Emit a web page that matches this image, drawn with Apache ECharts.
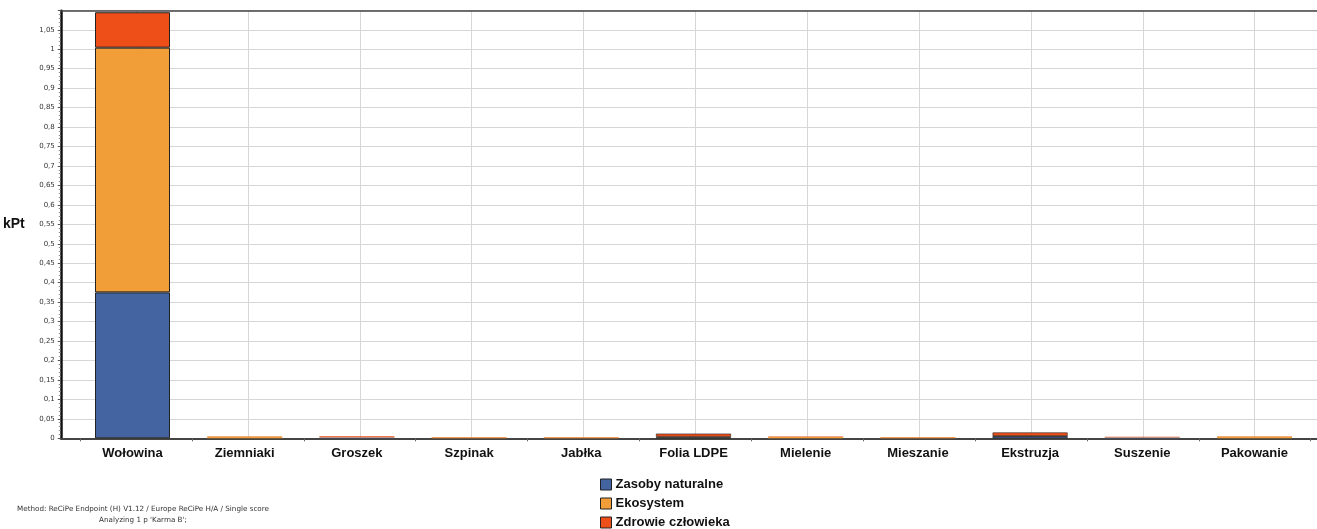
<!DOCTYPE html>
<html><head><meta charset="utf-8">
<script src="https://cdn.jsdelivr.net/npm/echarts@6/dist/echarts.min.js"></script>
<style>html,body{margin:0;padding:0;background:#fff}#c{width:1317px;height:529px}</style>
</head><body><div id="c"></div>
<script>
const categories = ['Wołowina','Ziemniaki','Groszek','Szpinak','Jabłka','Folia LDPE','Mielenie','Mieszanie','Ekstruzja','Suszenie','Pakowanie'];
const seriesNames = ['Zasoby naturalne','Ekosystem','Zdrowie człowieka'];
const zasoby   = [0.375, 0.0004, 0.0020, 0.0003, 0.0003, 0.0020, 0.0004, 0.0003, 0.0050, 0.0020, 0.0004];
const ekosystem= [0.629, 0.0040, 0.0008, 0.0025, 0.0025, 0.0020, 0.0030, 0.0025, 0.0010, 0.0006, 0.0040];
const zdrowie  = [0.091, 0.0008, 0.0022, 0.0008, 0.0008, 0.0080, 0.0015, 0.0008, 0.0090, 0.0016, 0.0008];
const yTicks = ['0','0,05','0,1','0,15','0,2','0,25','0,3','0,35','0,4','0,45','0,5','0,55','0,6','0,65','0,7','0,75','0,8','0,85','0,9','0,95','1','1,05'];
const colors = ['#4363A1','#F29E38','#EE4E18'];

const idx = categories.map((_, i) => i);
const bounds = [-0.5].concat(idx.map(i => i + 0.5));
const xMin = -0.673, xMax = 10.557;
const yMax = 1.099;
const totals = idx.map(i => zasoby[i] + ekosystem[i] + zdrowie[i]);

const chart = echarts.init(document.getElementById('c'));
const bw = (t) => t > 0.05 ? 1 : (t > 0.008 ? 0.6 : 0);
const bar = (name, arr) => ({name, type: 'bar', stack: 't', xAxisIndex: 2, yAxisIndex: 1, barWidth: 75,
  data: arr.map((v, i) => ({value: v, itemStyle: {borderWidth: bw(totals[i])}})),
  itemStyle: {borderColor: '#222', borderWidth: 1}});
chart.setOption({
  animation: false,
  color: colors,
  grid: [
    {left: 57, right: 0, top: 10.7, bottom: 90.7},
    {left: 76.4, right: 6.4, top: 10.7, bottom: 90.7}
  ],
  title: {
    text: "Method: ReCiPe Endpoint (H) V1.12 / Europe ReCiPe H/A / Single score\nAnalyzing 1 p 'Karma B';",
    left: 138, top: 499, textAlign: 'center',
    textStyle: {fontFamily: 'DejaVu Sans', fontSize: 7.2, fontWeight: 'normal', color: '#333', lineHeight: 11}
  },
  legend: {
    orient: 'vertical', left: 595, top: 473, height: 80, itemGap: 6, itemWidth: 11, itemHeight: 11,
    icon: 'rect', data: seriesNames,
    itemStyle: {borderColor: '#222', borderWidth: 1},
    textStyle: {fontFamily: 'Liberation Sans', fontSize: 13, fontWeight: 'bold', color: '#111', padding: [0,0,0,-1]}
  },
  xAxis: [{
    gridIndex: 0, type: 'value', min: xMin, max: xMax, position: 'bottom',
    axisLine: {show: true, onZero: false, lineStyle: {color: '#444', width: 2}},
    axisTick: {show: true, customValues: bounds, length: 3, lineStyle: {color: '#666'}},
    axisLabel: {show: false},
    splitLine: {show: false}
  }, {
    gridIndex: 0, type: 'value', min: xMin, max: xMax, position: 'top',
    axisLine: {show: true, onZero: false, lineStyle: {color: '#444', width: 1.5}},
    axisTick: {show: false, customValues: idx},
    axisLabel: {show: false, customValues: idx},
    splitLine: {show: true, lineStyle: {color: '#d6d6d6', width: 1}}
  }, {
    gridIndex: 1, type: 'category', data: categories, position: 'bottom',
    axisLine: {show: false}, axisTick: {show: false}, splitLine: {show: false},
    axisLabel: {interval: 0, margin: 9, fontFamily: 'Liberation Sans', fontSize: 13, fontWeight: 'bold', color: '#111'}
  }],
  yAxis: [{
    gridIndex: 0, type: 'value', min: 0, max: yMax, interval: 0.05,
    name: 'kPt', nameLocation: 'middle', nameRotate: 0, nameGap: 36,
    nameTextStyle: {fontFamily: 'Liberation Sans', fontSize: 14, fontWeight: 'bold', color: '#111'},
    axisLine: {show: true, onZero: false, lineStyle: {color: '#111', width: 2.5}},
    axisTick: {show: true, length: 3, lineStyle: {color: '#555'}},
    minorTick: {show: true, splitNumber: 5, length: 2, lineStyle: {color: '#888'}},
    axisLabel: {
      formatter: (v) => { const k = Math.round(v / 0.05); return Math.abs(k * 0.05 - v) < 1e-6 && k < yTicks.length ? yTicks[k] : ''; },
      fontFamily: 'DejaVu Sans', fontSize: 7, color: '#333', margin: 6
    },
    splitLine: {show: true, lineStyle: {color: '#d6d6d6', width: 1}}
  }, {
    gridIndex: 1, type: 'value', min: 0, max: yMax, show: false,
    splitLine: {show: false}
  }],
  series: [
    bar(seriesNames[0], zasoby),
    bar(seriesNames[1], ekosystem),
    bar(seriesNames[2], zdrowie)
  ]
});
</script></body></html>
